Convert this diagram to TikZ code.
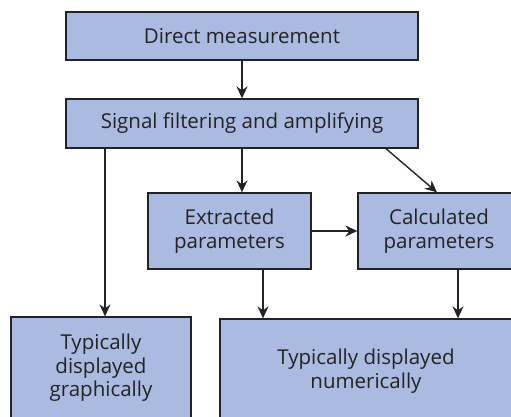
\documentclass[tikz,border=0pt]{standalone}
\usepackage{fontspec}
\setmainfont{Open Sans}
\usetikzlibrary{arrows.meta}
\definecolor{boxblue}{RGB}{170,186,225}
\definecolor{edge}{RGB}{35,35,35}
\begin{document}
\begin{tikzpicture}[x=1pt,y=-1pt,
    blk/.style={draw=edge,fill=boxblue,line width=1.3pt,align=center,inner sep=0pt,
      font=\fontsize{20.5}{23.5}\selectfont,text=edge},
    arr/.style={draw=edge,line width=1.4pt,-{Stealth[length=12pt,width=11pt,inset=4pt]}}]
  \useasboundingbox (0,0) rectangle (511,417);
  \clip (0,0) rectangle (511,417);
  \node[blk,minimum width=352pt,minimum height=48pt] (meas) at (242,36) {Direct measurement};
  \node[blk,minimum width=352pt,minimum height=49pt] (filt) at (242,123.5) {Signal filtering and amplifying};
  \node[blk,minimum width=163pt,minimum height=76pt] (extr) at (229.5,231) {Extracted\\parameters};
  \node[blk,minimum width=162pt,minimum height=76pt] (calc) at (439,231) {Calculated\\parameters};
  \node[blk,minimum width=180pt,minimum height=102pt] (graph) at (101,368) {Typically\\displayed\\graphically};
  \node[blk,minimum width=292pt,minimum height=104pt] (numer) at (366,371) {Typically displayed\\numerically};
  \draw[arr] (meas) -- (filt);
  \draw[arr] (filt.south) -- (filt.south |- extr.north);
  \draw[arr] ([xshift=144pt]filt.south) -- ([xshift=-2pt]calc.north);
  \draw[arr] (extr) -- (calc);
  \draw[arr] ([xshift=-137pt]filt.south) -- ([xshift=-137pt]filt.south |- graph.north);
  \draw[arr] ([xshift=33.5pt]extr.south) -- ([xshift=33.5pt]extr.south |- numer.north);
  \draw[arr] ([xshift=19pt]calc.south) -- ([xshift=19pt]calc.south |- numer.north);
\end{tikzpicture}
\end{document}
